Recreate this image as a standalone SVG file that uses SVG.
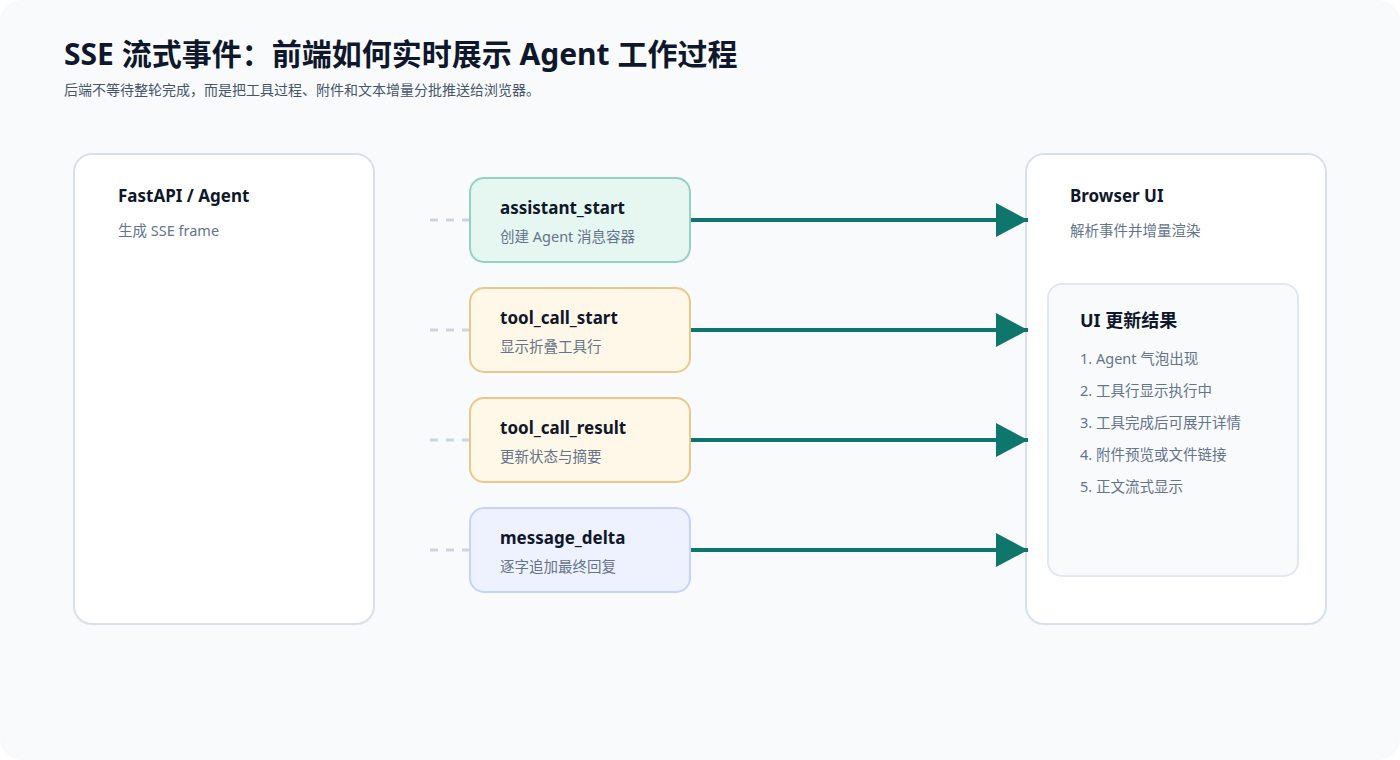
<svg xmlns="http://www.w3.org/2000/svg" width="1400" height="760" viewBox="0 0 1400 760">
<style>
text{font-family:"Noto Sans","Noto Sans CJK SC",sans-serif}
.t{font-size:17px;font-weight:700;fill:#0f172a}
.s{font-size:14.5px;fill:#64748b}
.card{fill:#fff;stroke:#d9e0ea;stroke-width:2}
.arr{stroke:#0f766e;stroke-width:4;fill:none;marker-end:url(#ah)}
.dash{stroke:#cbd5e1;stroke-width:3;stroke-dasharray:8 8}
</style>
<defs><marker id="ah" markerUnits="userSpaceOnUse" markerWidth="32" markerHeight="34" refX="32" refY="17" orient="auto"><path d="M0,0 L32,17 L0,34 Z" fill="#0f766e"/></marker></defs>
<rect x="0" y="0" width="1400" height="760" rx="22" fill="#f8fafc"/>
<text x="64" y="65" style="font-size:30px;font-weight:700;fill:#0f172a">SSE 流式事件：前端如何实时展示 Agent 工作过程</text>
<text x="64" y="95" style="font-size:14px;fill:#475569">后端不等待整轮完成，而是把工具过程、附件和文本增量分批推送给浏览器。</text>
<g id="backend"><rect class="card" x="74" y="154" width="300" height="470" rx="18"/><text class="t" x="118" y="202">FastAPI / Agent</text><text class="s" x="118" y="236">生成 SSE frame</text></g>
<g id="browser"><rect class="card" x="1026" y="154" width="300" height="470" rx="18"/><text class="t" x="1070" y="202">Browser UI</text><text class="s" x="1070" y="236">解析事件并增量渲染</text></g>
<g id="result"><rect x="1048" y="284" width="250" height="292" rx="14" fill="#f8fafc" stroke="#e2e8f0" stroke-width="2"/><text class="t" x="1080" y="327" style="font-size:18px">UI 更新结果</text>
<text class="s" x="1080" y="364">1. Agent 气泡出现</text><text class="s" x="1080" y="396">2. 工具行显示执行中</text><text class="s" x="1080" y="428">3. 工具完成后可展开详情</text><text class="s" x="1080" y="460">4. 附件预览或文件链接</text><text class="s" x="1080" y="492">5. 正文流式显示</text></g>
<g id="connectors">
<line class="dash" x1="430" y1="220" x2="470" y2="220"/><line class="dash" x1="430" y1="330" x2="470" y2="330"/><line class="dash" x1="430" y1="440" x2="470" y2="440"/><line class="dash" x1="430" y1="550" x2="470" y2="550"/>
<line class="arr" x1="690" y1="220" x2="1028" y2="220"/><line class="arr" x1="690" y1="330" x2="1028" y2="330"/><line class="arr" x1="690" y1="440" x2="1028" y2="440"/><line class="arr" x1="690" y1="550" x2="1028" y2="550"/>
</g>
<g id="ev1"><rect x="470" y="178" width="220" height="84" rx="14" fill="#e6f6f1" stroke="#94d1c0" stroke-width="2"/><text class="t" x="500" y="214">assistant_start</text><text class="s" x="500" y="242">创建 Agent 消息容器</text></g>
<g id="ev2"><rect x="470" y="288" width="220" height="84" rx="14" fill="#fff7e8" stroke="#e8c98c" stroke-width="2"/><text class="t" x="500" y="324">tool_call_start</text><text class="s" x="500" y="352">显示折叠工具行</text></g>
<g id="ev3"><rect x="470" y="398" width="220" height="84" rx="14" fill="#fff7e8" stroke="#e8c98c" stroke-width="2"/><text class="t" x="500" y="434">tool_call_result</text><text class="s" x="500" y="462">更新状态与摘要</text></g>
<g id="ev4"><rect x="470" y="508" width="220" height="84" rx="14" fill="#eef2ff" stroke="#c7d2fe" stroke-width="2"/><text class="t" x="500" y="544">message_delta</text><text class="s" x="500" y="572">逐字追加最终回复</text></g>
</svg>
